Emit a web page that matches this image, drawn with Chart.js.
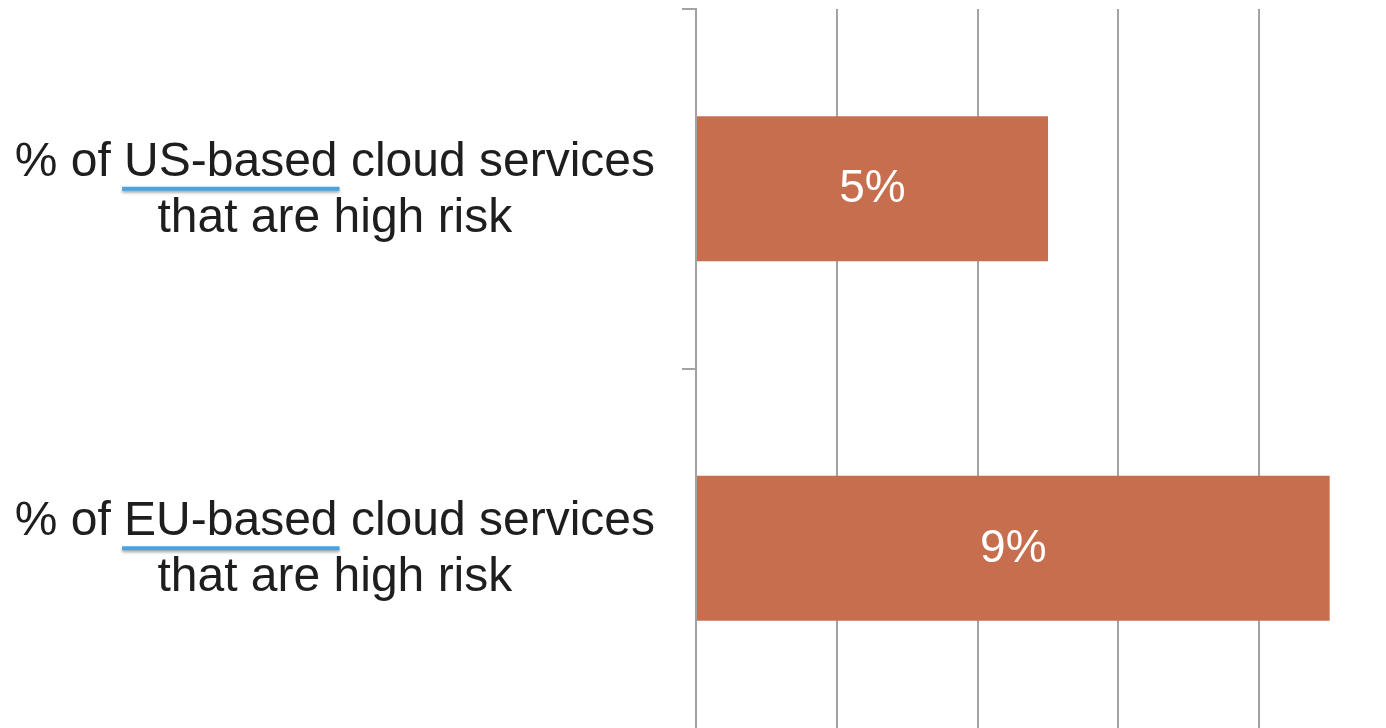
<!DOCTYPE html>
<html>
<head>
<meta charset="utf-8">
<script src="https://cdn.jsdelivr.net/npm/chart.js@4/dist/chart.umd.min.js"></script>
<style>
  html, body { margin: 0; padding: 0; background: #ffffff; }
  #wrap { width: 1386px; height: 728px; position: relative; }
</style>
</head>
<body>
<div id="wrap"><canvas id="c"></canvas></div>
<script>
// ---- data ----
const categories = [
  ['% of US-based cloud services', 'that are high risk'],
  ['% of EU-based cloud services', 'that are high risk']
];
const underlinedWords = ['US-based', 'EU-based'];
const values = [5, 9];
const valueLabels = ['5%', '9%'];
const xTickStep = 2;
const xMin = 0;
const xMax = 9.8;

const FONT = '"Liberation Sans", Arial, Helvetica, sans-serif';
const LABEL_SIZE = 48;
const LINE_H = 56 / 48;
const LABEL_SHIFT = 2;
const GRID_COLOR = '#a3a3a3';

const valueLabelPlugin = {
  id: 'valueLabels',
  afterDatasetsDraw(chart) {
    const ctx = chart.ctx;
    const meta = chart.getDatasetMeta(0);
    ctx.save();
    ctx.fillStyle = '#ffffff';
    ctx.font = '46px ' + FONT;
    ctx.textAlign = 'center';
    ctx.textBaseline = 'middle';
    meta.data.forEach((bar, i) => {
      const cx = (bar.x + bar.base) / 2;
      ctx.fillText(valueLabels[i], cx, bar.y + 1);
    });
    ctx.restore();
  }
};

const underlinePlugin = {
  id: 'underlines',
  afterDraw(chart) {
    const ctx = chart.ctx;
    const ys = chart.scales.y;
    const lineH = LABEL_SIZE * LINE_H;
    const tl = 14 + 27;
    const widestCenter = ys.right - tl - ys._labelSizes.widest.width / 2;
    ctx.save();
    ctx.font = LABEL_SIZE + 'px ' + FONT;
    categories.forEach((lines, i) => {
      const first = lines[0];
      const word = underlinedWords[i];
      const idx = first.indexOf(word);
      const full = ctx.measureText(first).width;
      const pre = ctx.measureText(first.slice(0, idx)).width;
      const w = ctx.measureText(word).width;
      const left = widestCenter - full / 2 + pre;
      const yMid = ys.getPixelForTick(i) - lineH / 2 + LABEL_SHIFT;
      const y = yMid + 26;
      ctx.shadowColor = 'rgba(0,0,0,0.35)';
      ctx.shadowBlur = 3;
      ctx.shadowOffsetY = 2;
      ctx.strokeStyle = '#4aa3df';
      ctx.lineWidth = 4;
      ctx.lineCap = 'butt';
      ctx.beginPath();
      ctx.moveTo(left - 2, y);
      ctx.lineTo(left + w + 2, y);
      ctx.stroke();
    });
    ctx.restore();
  }
};

new Chart(document.getElementById('c'), {
  type: 'bar',
  data: {
    labels: categories,
    datasets: [{
      data: values,
      backgroundColor: '#c66e4e',
      borderWidth: 0,
      categoryPercentage: 1.0,
      barPercentage: 0.403
    }]
  },
  options: {
    indexAxis: 'y',
    responsive: true,
    maintainAspectRatio: false,
    animation: false,
    layout: { padding: { top: 9, left: 0, right: 0, bottom: 0 } },
    plugins: {
      legend: { display: false },
      tooltip: { enabled: false },
      title: { display: false }
    },
    scales: {
      x: {
        type: 'linear',
        min: xMin,
        max: xMax,
        ticks: { display: false, stepSize: xTickStep, includeBounds: false },
        grid: { color: GRID_COLOR, lineWidth: 2, drawTicks: false },
        border: { display: false }
      },
      y: {
        type: 'category',
        offset: true,
        afterFit(scale) {
          scale.width = 696;
          scale.paddingTop = 0;
          scale.paddingBottom = 0;
        },
        ticks: {
          crossAlign: 'center',
          padding: 27,
          labelOffset: LABEL_SHIFT,
          color: '#1e1e1e',
          font: { family: FONT, size: LABEL_SIZE, lineHeight: LINE_H }
        },
        grid: {
          offset: true,
          drawOnChartArea: false,
          drawTicks: true,
          tickLength: 14,
          color: (c) => (c.type === 'tick' ? GRID_COLOR : 'rgba(0,0,0,0)'),
          tickColor: (c) => (c.type === 'tick' ? GRID_COLOR : 'rgba(0,0,0,0)'),
          lineWidth: 2
        },
        border: { display: true, color: GRID_COLOR, width: 2 }
      }
    }
  },
  plugins: [valueLabelPlugin, underlinePlugin]
});
</script>
</body>
</html>
